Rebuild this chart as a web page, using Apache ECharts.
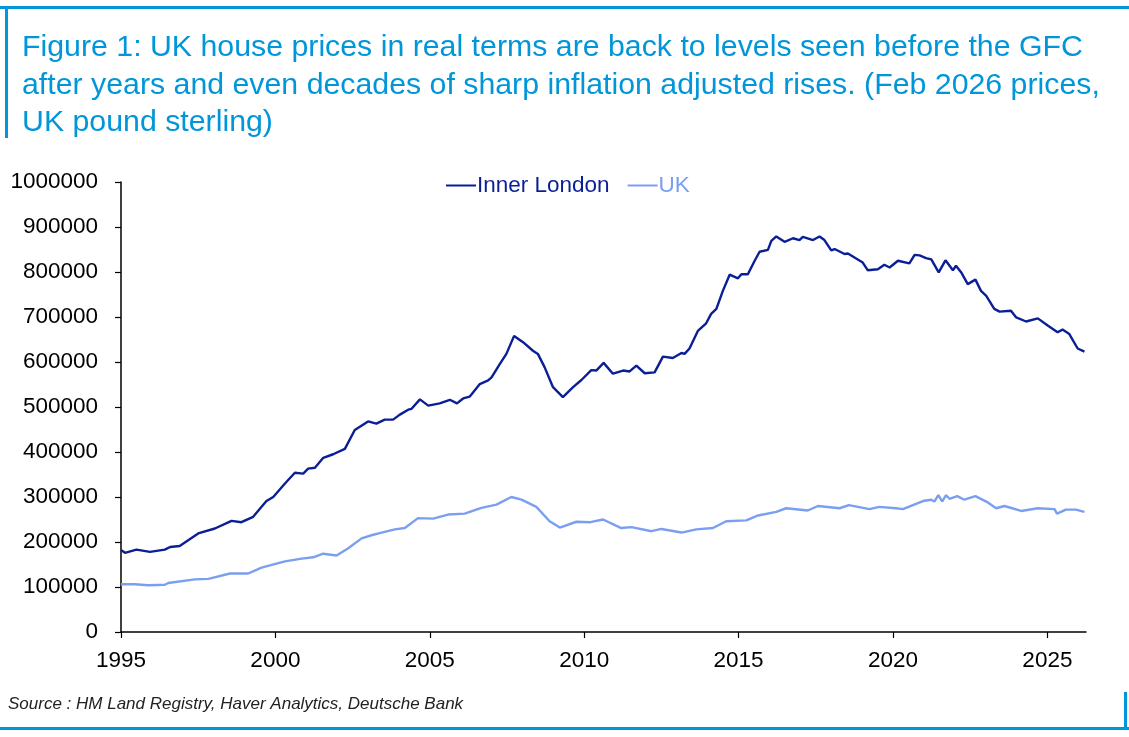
<!DOCTYPE html>
<html>
<head>
<meta charset="utf-8">
<script src="https://cdn.jsdelivr.net/npm/echarts@6/dist/echarts.min.js"></script>
<style>
html,body{margin:0;padding:0;background:#fff;}
#chart{width:1129px;height:737px;}
</style>
</head>
<body>
<div id="chart"></div>
<script>
const titleText = 'Figure 1: UK house prices in real terms are back to levels seen before the GFC\nafter years and even decades of sharp inflation adjusted rises. (Feb 2026 prices,\nUK pound sterling)';
const sourceText = 'Source : HM Land Registry, Haver Analytics, Deutsche Bank';
const seriesNames = ['Inner London', 'UK'];
const xTickYears = [1995, 2000, 2005, 2010, 2015, 2020, 2025];

const ilYears = [1995.0,1995.13,1995.5,1995.94,1996.42,1996.59,1996.9,1997.5,1998.04,1998.58,1998.9,1999.28,1999.71,1999.93,2000.31,2000.63,2000.9,2001.06,2001.28,2001.55,2001.87,2002.25,2002.57,2003.0,2003.27,2003.54,2003.81,2004.03,2004.3,2004.41,2004.68,2004.95,2005.32,2005.65,2005.88,2006.08,2006.29,2006.62,2006.89,2007.0,2007.27,2007.48,2007.73,2008.02,2008.34,2008.5,2008.72,2008.99,2009.31,2009.64,2009.91,2010.23,2010.39,2010.63,2010.93,2011.26,2011.47,2011.69,2011.96,2012.28,2012.55,2012.87,2013.15,2013.25,2013.41,2013.68,2013.95,2014.11,2014.28,2014.49,2014.71,2014.98,2015.09,2015.3,2015.52,2015.68,2015.95,2016.06,2016.22,2016.49,2016.76,2016.97,2017.08,2017.41,2017.62,2017.78,2018.0,2018.11,2018.43,2018.54,2019.02,2019.18,2019.51,2019.72,2019.89,2020.16,2020.53,2020.7,2020.86,2021.07,2021.24,2021.48,2021.7,2021.94,2022.04,2022.21,2022.42,2022.67,2022.85,2023.02,2023.28,2023.45,2023.82,2023.99,2024.31,2024.69,2025.01,2025.33,2025.49,2025.71,2025.98,2026.2];
const ilValues = [182000,176000,183000,178000,183000,189000,191000,219000,230000,247000,244000,256000,291000,300000,330000,354000,352000,363000,365000,387000,395000,407000,449000,468000,463000,472000,472000,483000,494000,496000,517000,503000,508000,516000,508000,519000,523000,551000,559000,566000,596000,618000,658000,644000,625000,618000,588000,544000,522000,544000,560000,582000,581000,598000,574000,581000,579000,592000,575000,577000,612000,609000,620000,618000,630000,669000,686000,707000,718000,758000,794000,786000,795000,795000,825000,845000,849000,869000,879000,867000,875000,871000,878000,871000,879000,871000,848000,851000,840000,841000,821000,804000,806000,816000,810000,825000,819000,838000,837000,831000,828000,799000,826000,804000,814000,799000,773000,783000,758000,747000,718000,712000,714000,699000,690000,697000,681000,666000,672000,662000,630000,623000];

const ukYears = [1995.0,1995.45,1995.88,1996.42,1996.53,1997.39,1997.83,1998.53,1999.12,1999.55,2000.31,2000.85,2001.22,2001.55,2001.98,2002.36,2002.79,2003.11,2003.44,2003.87,2004.19,2004.62,2005.11,2005.59,2006.13,2006.67,2007.16,2007.64,2007.97,2008.45,2008.88,2009.21,2009.75,2010.2,2010.61,2011.2,2011.53,2012.18,2012.5,2013.15,2013.63,2014.17,2014.6,2015.25,2015.63,2016.22,2016.54,2017.24,2017.57,2018.27,2018.57,2019.24,2019.56,2020.1,2020.32,2020.97,2021.24,2021.34,2021.47,2021.59,2021.72,2021.83,2022.08,2022.31,2022.67,2023.07,2023.34,2023.61,2024.15,2024.69,2025.23,2025.31,2025.6,2025.92,2026.2];
const ukValues = [106000,106000,104000,105000,109000,117000,118000,130000,130000,143000,157000,163000,166000,174000,170000,186000,208000,215000,221000,228000,231000,253000,252000,261000,263000,276000,283000,300000,294000,278000,246000,232000,245000,244000,250000,231000,233000,224000,229000,221000,228000,231000,246000,248000,259000,267000,275000,270000,280000,275000,282000,273000,278000,275000,273000,291000,294000,290000,304000,290000,304000,296000,302000,294000,302000,288000,275000,280000,269000,275000,273000,263000,272000,272000,267000];

const colors = { il: '#0a1f96', uk: '#7b9ff0', frame: '#0096d9', text: '#000000' };
const FONT = 'Liberation Sans, Arial, sans-serif';

const chart = echarts.init(document.getElementById('chart'), null, { renderer: 'canvas' });
chart.setOption({
  backgroundColor: '#ffffff',
  animation: false,
  title: {
    text: titleText,
    left: 17,
    top: 24,
    textStyle: { color: colors.frame, fontSize: 30.3, fontWeight: 'normal', fontFamily: FONT, lineHeight: 37.5 }
  },
  legend: {
    top: 169,
    left: 441,
    itemWidth: 30,
    itemHeight: 2,
    itemGap: 18,
    icon: 'rect',
    textStyle: { fontSize: 22.5, fontFamily: FONT, padding: [0, 0, 0, -4] },
    data: [
      { name: seriesNames[0], textStyle: { color: colors.il } },
      { name: seriesNames[1], textStyle: { color: colors.uk } }
    ]
  },
  grid: { left: 121, right: 43, top: 182, bottom: 105, containLabel: false },
  xAxis: {
    type: 'value',
    min: 1995,
    max: 2026.25,
    interval: 5,
    splitLine: { show: false },
    axisLine: { lineStyle: { color: '#000', width: 1.5 } },
    axisTick: { show: true, length: 6, customValues: xTickYears, lineStyle: { color: '#000', width: 1.2 } },
    axisLabel: { customValues: xTickYears, color: colors.text, fontSize: 22.5, fontFamily: FONT, margin: 17, formatter: v => String(v) }
  },
  yAxis: {
    type: 'value',
    min: 0,
    max: 1000000,
    interval: 100000,
    splitLine: { show: false },
    axisLine: { show: true, lineStyle: { color: '#000', width: 1.5 } },
    axisTick: { show: true, length: 6, lineStyle: { color: '#000', width: 1.2 } },
    axisLabel: { color: colors.text, fontSize: 22.5, fontFamily: FONT, margin: 23, formatter: v => String(v) }
  },
  series: [
    {
      name: seriesNames[0], type: 'line', showSymbol: false, smooth: false,
      lineStyle: { color: colors.il, width: 2.4 }, itemStyle: { color: colors.il },
      data: ilYears.map((y, i) => [y, ilValues[i]])
    },
    {
      name: seriesNames[1], type: 'line', showSymbol: false, smooth: false,
      lineStyle: { color: colors.uk, width: 2.4 }, itemStyle: { color: colors.uk },
      data: ukYears.map((y, i) => [y, ukValues[i]])
    }
  ],
  graphic: [
    { type: 'line', shape: { x1: 0, y1: 7.5, x2: 1129, y2: 7.5 }, style: { stroke: colors.frame, lineWidth: 3 } },
    { type: 'line', shape: { x1: 6.5, y1: 6, x2: 6.5, y2: 138 }, style: { stroke: colors.frame, lineWidth: 3 } },
    { type: 'line', shape: { x1: 0, y1: 728.5, x2: 1129, y2: 728.5 }, style: { stroke: colors.frame, lineWidth: 3 } },
    { type: 'line', shape: { x1: 1125.5, y1: 692, x2: 1125.5, y2: 730 }, style: { stroke: colors.frame, lineWidth: 3 } },
    { type: 'text', left: 8, top: 696, style: { text: sourceText, fill: '#222', fontSize: 17, fontStyle: 'italic', fontFamily: FONT } }
  ]
});
</script>
</body>
</html>
